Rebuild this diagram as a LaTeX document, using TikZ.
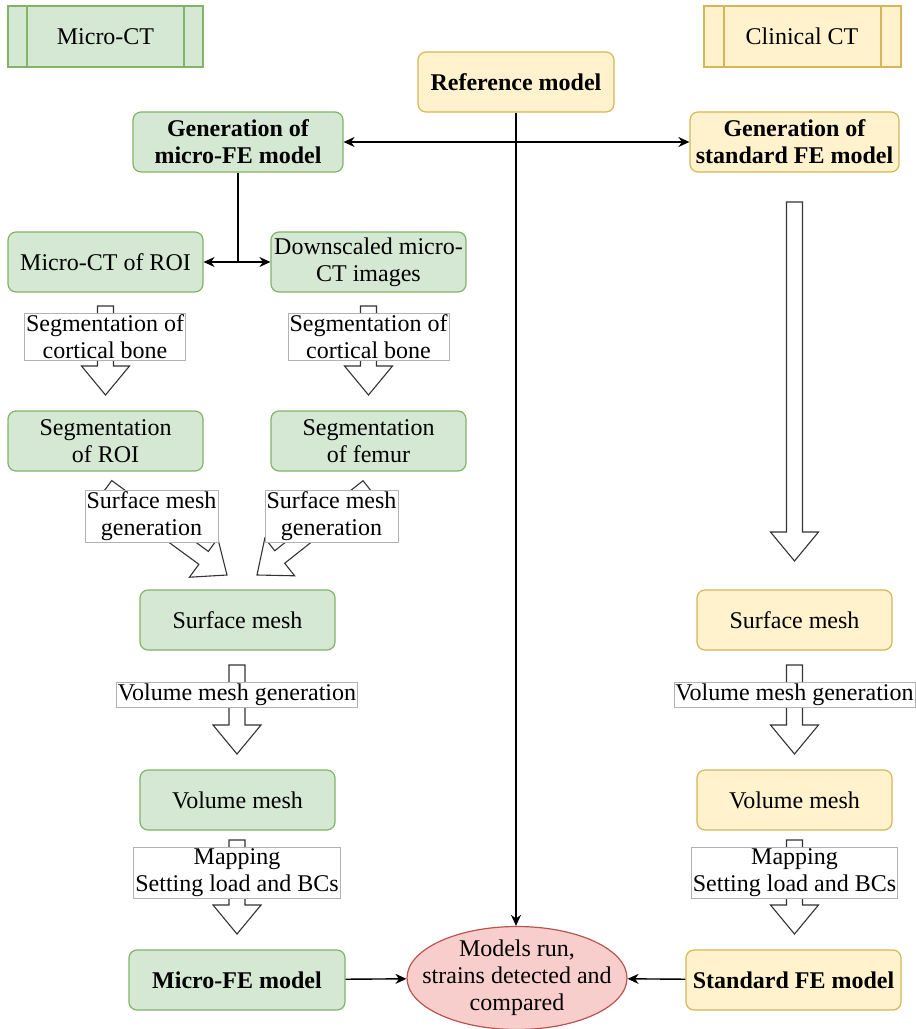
\documentclass[tikz,border=0pt]{standalone}
\usepackage{fontspec}
\setmainfont{Liberation Serif}
\usetikzlibrary{shapes.geometric,calc,arrows.meta}
\definecolor{microfill}{HTML}{D5E8D4}
\definecolor{microline}{HTML}{82B366}
\definecolor{clinfill}{HTML}{FFF2CC}
\definecolor{clinline}{HTML}{D6B656}
\definecolor{runfill}{HTML}{F8CECC}
\definecolor{runline}{HTML}{B85450}
\tikzset{
  micro/.style={draw=microline,fill=microfill,rounded corners=8pt,line width=1.2pt,minimum width=195pt,minimum height=60pt,align=center,inner sep=1pt},
  clin/.style={micro,draw=clinline,fill=clinfill},
  tag/.style={draw=black!30,fill=white,line width=0.7pt,align=center,inner sep=1.5pt},
  fatline/.style={draw=black!80,fill=white,line width=1.1pt,line join=miter},
  link/.style={line width=1.4pt,-{Stealth[length=11pt,width=10pt]}},
}
\newcommand{\blockarrow}[2]{%
  \draw[fatline] let \p1=($(#2)-(#1)$), \n1={atan2(\y1,\x1)} in
    ($(#1)+(\n1+90:8pt)$) -- ($(#2)+(\n1:-29pt)+(\n1+90:8pt)$) -- ($(#2)+(\n1:-29pt)+(\n1+90:24pt)$)
    -- (#2) -- ($(#2)+(\n1:-29pt)+(\n1-90:24pt)$) -- ($(#2)+(\n1:-29pt)+(\n1-90:8pt)$)
    -- ($(#1)+(\n1-90:8pt)$) -- cycle;}

\begin{document}
\begin{tikzpicture}[x=1pt,y=-1pt,font=\fontsize{24}{27}\selectfont]
  \useasboundingbox (0,0) rectangle (916,1029);
  \draw
    (105.5,36.5) node[micro,rounded corners=0pt,line width=2pt,minimum width=195pt,minimum height=61pt] (mct){Micro-CT}
    (802,36.5) node[clin,rounded corners=0pt,line width=2pt,minimum width=197pt,minimum height=61pt] (clinct){Clinical CT}
    (516,82) node[clin,minimum width=196pt,font=\fontsize{24}{27}\selectfont\bfseries] (refm){Reference model}
    (238,142) node[micro,minimum width=210pt,font=\fontsize{24}{27}\selectfont\bfseries] (genmicro){Generation of\\micro-FE model}
    (794.5,142) node[clin,minimum width=209pt,font=\fontsize{24}{27}\selectfont\bfseries] (genstd){Generation of\\standard FE model}
    (105.5,262) node[micro] (roi){Micro-CT of ROI}
    (368.5,262) node[micro] (down){Downscaled micro-\\CT images}
    (105.5,441) node[micro] (segroi){Segmentation\\of ROI}
    (368.5,441) node[micro] (segfem){Segmentation\\of femur}
    (237.5,620) node[micro] (surfm){Surface mesh}
    (237.5,800) node[micro] (volm){Volume mesh}
    (237,980) node[micro,minimum width=216pt,font=\fontsize{24}{27}\selectfont\bfseries] (mfe){Micro-FE model}
    (794.5,620) node[clin] (surfc){Surface mesh}
    (794.5,800) node[clin] (volc){Volume mesh}
    (793.5,980) node[clin,minimum width=215pt,font=\fontsize{24}{27}\selectfont\bfseries] (sfe){Standard FE model}
    (517,978) node[ellipse,draw=runline,fill=runfill,line width=1.2pt,minimum width=220pt,minimum height=103pt,align=center,inner xsep=-30pt,inner ysep=-10pt] (run){Models run,\\strains detected and\\compared};
  \draw[microline,line width=2pt] ([xshift=20pt]mct.north west) -- ([xshift=20pt]mct.south west)
    ([xshift=-20pt]mct.north east) -- ([xshift=-20pt]mct.south east);
  \draw[clinline,line width=2pt] ([xshift=21pt]clinct.north west) -- ([xshift=21pt]clinct.south west)
    ([xshift=-21pt]clinct.north east) -- ([xshift=-21pt]clinct.south east);

  \draw[line width=1.4pt,{Stealth[length=11pt,width=10pt]}-{Stealth[length=11pt,width=10pt]}] (genmicro) -- (genstd);
  \draw[link] (refm.south) -- (refm.south |- run.north);
  \draw[line width=1.4pt] (genmicro.south) -- (genmicro.south |- roi.east) coordinate (fork);
  \draw[link] (fork) -- (roi.east);
  \draw[link] (fork) -- (down.west);
  \draw[link] (mfe) -- (run);
  \draw[link] (sfe) -- (run);

  \coordinate (b1s) at (105.5,306); \coordinate (b1e) at (105.5,395);
  \coordinate (b2s) at (368.5,306); \coordinate (b2e) at (368.5,395);
  \coordinate (b3s) at (107,487);   \coordinate (b3e) at (227,575);
  \coordinate (b4s) at (368,487);   \coordinate (b4e) at (257,575);
  \coordinate (b5s) at (237,665);   \coordinate (b5e) at (237,754);
  \coordinate (b6s) at (237,840);   \coordinate (b6e) at (237,934);
  \coordinate (b7s) at (794.5,202); \coordinate (b7e) at (794.5,561);
  \coordinate (b8s) at (794.5,665); \coordinate (b8e) at (794.5,754);
  \coordinate (b9s) at (794.5,840); \coordinate (b9e) at (794.5,934);
  \blockarrow{b1s}{b1e}
  \blockarrow{b2s}{b2e}
  \blockarrow{b3s}{b3e}
  \blockarrow{b4s}{b4e}
  \blockarrow{b5s}{b5e}
  \blockarrow{b6s}{b6e}
  \blockarrow{b7s}{b7e}
  \blockarrow{b8s}{b8e}
  \blockarrow{b9s}{b9e}

  \draw
    (105,336.5) node[tag] (t1){Segmentation of\\cortical bone}
    (368.5,336.5) node[tag] (t2){Segmentation of\\cortical bone}
    (151.5,516.5) node[tag] (t3){Surface mesh\\generation}
    (331.5,516.5) node[tag] (t4){Surface mesh\\generation}
    (237,695) node[tag] (t5){Volume mesh generation}
    (237,872.5) node[tag] (t6){Mapping\\Setting load and BCs}
    (794.5,695) node[tag] (t7){Volume mesh generation}
    (794.5,872.5) node[tag] (t8){Mapping\\Setting load and BCs};
\end{tikzpicture}
\end{document}
